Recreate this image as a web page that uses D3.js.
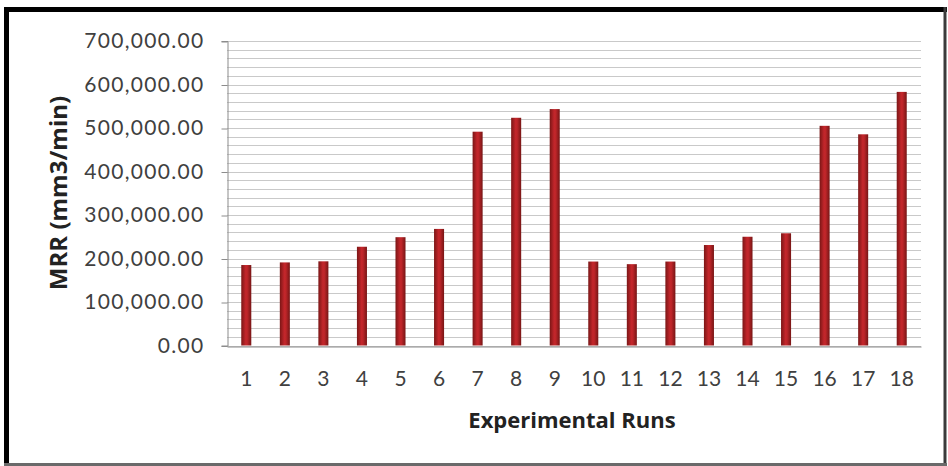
<!DOCTYPE html>
<html>
<head>
<meta charset="utf-8">
<script src="https://cdn.jsdelivr.net/npm/d3@7"></script>
<style>
  html, body { margin: 0; padding: 0; background: #fff; }
  svg { display: block; }
</style>
</head>
<body>
<svg id="chart"></svg>
<script>
// Experimental runs and material removal rate (mm3/min)
const runs = ['1', '2', '3', '4', '5', '6', '7', '8', '9', '10', '11', '12', '13', '14', '15', '16', '17', '18'];
const mrrValues = [185000, 191000, 193500, 227000, 249000, 268000, 491500, 523500, 543500,
  193000, 187000, 193000, 231000, 250000, 258000, 505000, 485500, 583000];
const yTicks = [0, 100000, 200000, 300000, 400000, 500000, 600000, 700000];
const yGridLines = d3.range(0, 700001, 20000);

const width = 948;
const height = 466;
const plot = { left: 227, right: 921, top: 41, bottom: 345.5 };

const svg = d3.select('#chart')
  .attr('width', width)
  .attr('height', height)
  .attr('viewBox', `0 0 ${width} ${height}`);

// bar gradient: darker edges, brighter red core
const defs = svg.append('defs');
const grad = defs.append('linearGradient')
  .attr('id', 'barGrad')
  .attr('x1', '0%').attr('x2', '100%')
  .attr('y1', '0%').attr('y2', '0%');
grad.append('stop').attr('offset', '0%').attr('stop-color', '#7a1616');
grad.append('stop').attr('offset', '45%').attr('stop-color', '#c3262b');
grad.append('stop').attr('offset', '60%').attr('stop-color', '#bd2529');
grad.append('stop').attr('offset', '100%').attr('stop-color', '#761515');

const x = d3.scaleBand()
  .domain(runs)
  .range([plot.left, plot.right])
  .paddingInner(0.74)
  .paddingOuter(0.37);

const y = d3.scaleLinear()
  .domain([0, 700000])
  .range([plot.bottom, plot.top]);

// gridlines every 20,000
svg.append('g')
  .selectAll('line')
  .data(yGridLines)
  .enter()
  .append('line')
  .attr('x1', plot.left)
  .attr('x2', plot.right)
  .attr('y1', d => Math.round(y(d)) + 0.5)
  .attr('y2', d => Math.round(y(d)) + 0.5)
  .attr('stroke', '#c9c9c9')
  .attr('stroke-width', 1);

// y axis
const yAxis = svg.append('g')
  .attr('transform', `translate(${plot.left + 0.5},0)`)
  .call(d3.axisLeft(y)
    .tickValues(yTicks)
    .tickFormat(d3.format(',.2f'))
    .tickSize(6)
    .tickPadding(17));
yAxis.select('.domain').attr('stroke', '#8c8c8c');
yAxis.selectAll('.tick line')
  .attr('stroke', '#8c8c8c')
  .attr('transform', 'translate(0,0.5)');
yAxis.selectAll('.tick text')
  .attr('fill', '#404040')
  .style('font-family', 'Lato, "Open Sans", sans-serif')
  .style('font-size', '21px')
  .style('letter-spacing', '1.3px');

// bars
svg.append('g')
  .selectAll('rect')
  .data(mrrValues)
  .enter()
  .append('rect')
  .attr('x', (d, i) => x(runs[i]))
  .attr('y', d => y(d))
  .attr('width', x.bandwidth())
  .attr('height', d => plot.bottom - y(d))
  .attr('fill', 'url(#barGrad)');

// x axis
const xAxis = svg.append('g')
  .attr('transform', `translate(0,${Math.round(plot.bottom) + 0.5})`)
  .call(d3.axisBottom(x).tickSize(0).tickPadding(25));
xAxis.select('.domain').attr('stroke', '#8c8c8c');
xAxis.selectAll('.tick text')
  .attr('fill', '#404040')
  .style('font-family', 'Lato, "Open Sans", sans-serif')
  .style('font-size', '21px');

// axis titles
svg.append('text')
  .attr('x', 572)
  .attr('y', 428)
  .attr('text-anchor', 'middle')
  .attr('fill', '#222')
  .style('font-family', '"Open Sans", sans-serif')
  .style('font-weight', 'bold')
  .style('font-size', '22px')
  .text('Experimental Runs');

svg.append('text')
  .attr('transform', 'translate(67,193) rotate(-90)')
  .attr('text-anchor', 'middle')
  .attr('fill', '#222')
  .style('font-family', '"Open Sans", sans-serif')
  .style('font-weight', 'bold')
  .style('font-size', '24px')
  .text('MRR (mm3/min)');

// chart frame: heavy black top/left, lighter grey right/bottom
const frame = svg.append('g');
frame.append('line')
  .attr('x1', 4).attr('x2', 947).attr('y1', 9.5).attr('y2', 9.5)
  .attr('stroke', '#000').attr('stroke-width', 5);
frame.append('line')
  .attr('x1', 6.5).attr('x2', 6.5).attr('y1', 7).attr('y2', 466)
  .attr('stroke', '#000').attr('stroke-width', 5);
frame.append('line')
  .attr('x1', 945).attr('x2', 945).attr('y1', 7).attr('y2', 466)
  .attr('stroke', '#3a3a3a').attr('stroke-width', 3);
frame.append('line')
  .attr('x1', 4).attr('x2', 947).attr('y1', 464.5).attr('y2', 464.5)
  .attr('stroke', '#6a6a6a').attr('stroke-width', 3);
</script>
</body>
</html>
